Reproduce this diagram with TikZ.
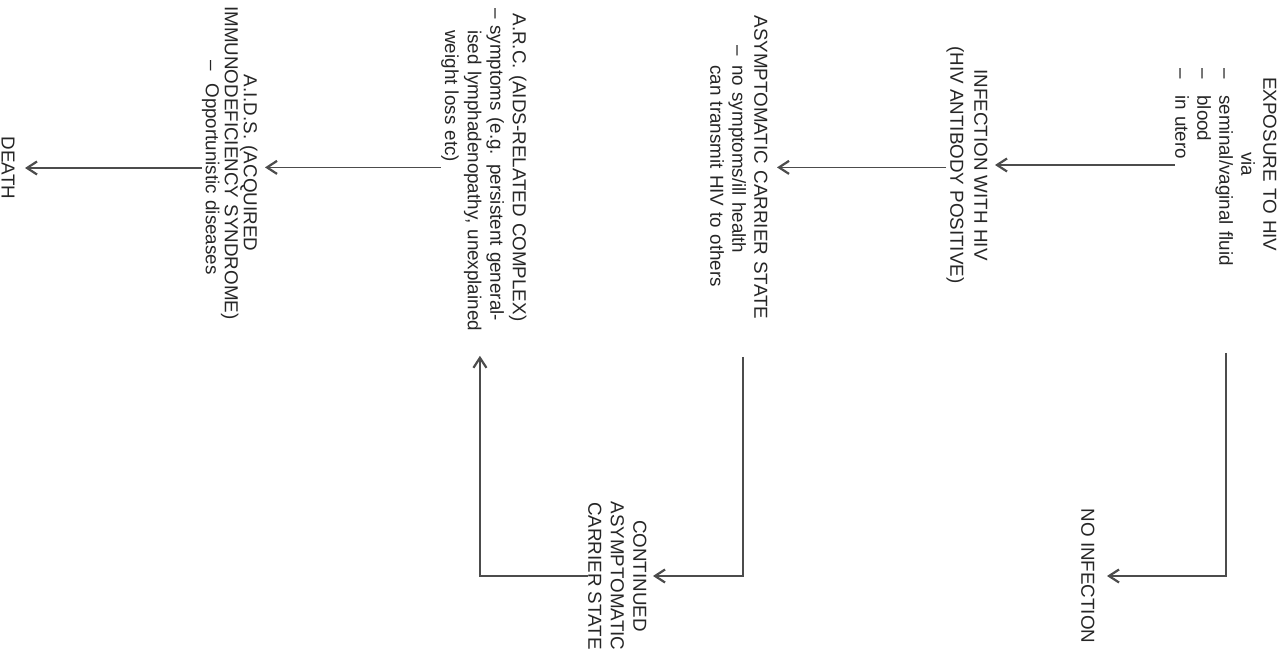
\documentclass[tikz,border=0pt]{standalone}
\usepackage{fontspec}
\setmainfont{Liberation Sans}
\usetikzlibrary{arrows.meta,calc}
\newcommand{\dsh}[1]{\makebox[#1][l]{\textendash}}
\hfuzz=200pt
\begin{document}
\begin{tikzpicture}[x=0.5pt,y=-0.5pt,
  blk/.style={rotate=-90, inner sep=0pt, text=black!85, font=\fontsize{9.4}{11}\selectfont},
  arr/.style={draw=black!70, line width=0.65pt, -{Straight Barb[length=5pt,width=6.5pt,line width=1.1pt]}}]
\fill[white] (0,0) rectangle (1280,651);
\useasboundingbox (0,0) rectangle (1280,651);

\node[blk, anchor=north west, text width=96pt, align=left] (ex) at (1277,68)
 {\makebox[\linewidth][c]{EXPOSURE TO HIV}\\
  \makebox[\linewidth][c]{via}\\
  \mbox{\dsh{13.5pt}seminal/vaginal fluid}\\
  \mbox{\dsh{13.5pt}blood}\\
  \mbox{\dsh{13.5pt}in utero}};

\node[blk, anchor=north, align=center, font=\fontsize{9.4}{12}\selectfont] (inf) at (988,165)
 {INFECTION WITH HIV\\(HIV ANTIBODY POSITIVE)};

\node[blk, anchor=north west, text width=150pt, align=left] (asy) at (768,17)
 {\makebox[\linewidth][c]{ASYMPTOMATIC CARRIER STATE}\\
  \mbox{\hspace*{14pt}\dsh{10pt}no symptoms/ill health}\\
  \mbox{\hspace*{24pt}can transmit HIV to others}};

\node[blk, anchor=north west, text width=159pt, align=left, font=\fontsize{9.4}{11.3}\selectfont] (arc) at (527,8)
 {\makebox[\linewidth][c]{A.R.C. (AIDS-RELATED COMPLEX)}\\
  \mbox{\dsh{8.5pt}symptoms (e.g. persistent general-}\\
  \mbox{\hspace*{11pt}ised lymphadenopathy, unexplained}\\
  \mbox{\hspace*{11pt}weight loss etc)}};

\node[blk, anchor=north west, text width=152.5pt, align=left, font=\fontsize{9.4}{9.5}\selectfont] (aids) at (258,10)
 {\makebox[\linewidth][c]{A.I.D.S. (ACQUIRED}\\
  \makebox[\linewidth][c]{IMMUNODEFICIENCY SYNDROME)}\\
  \mbox{\hspace*{25pt}\dsh{11.5pt}Opportunistic diseases}};

\node[blk, anchor=north] (death) at (15,168) {DEATH};
\node[blk, anchor=north] (noinf) at (1095,576) {NO INFECTION};
\node[blk, anchor=north, align=center, font=\fontsize{9.4}{11.25}\selectfont] (cont) at (647,576)
 {CONTINUED\\ASYMPTOMATIC\\CARRIER STATE};

\coordinate (exdn) at (1226,353);
\coordinate (asydn) at (743,357);

\draw[arr] (ex.south |- inf.north) -- ($(inf.north)+(7,0)$);
\draw[arr] (exdn) |- ($(noinf.north)+(12,0)$);
\draw[arr] (inf.south |- asy.north) -- ($(asy.north)+(9,0)$);
\draw[arr] (asydn) |- ($(cont.north)+(6,0)$);
\draw[arr] (cont.south) -| ($(arc.east)+(-4,29)$);
\draw[arr] (arc.south) -- ($(arc.south -| aids.north)+(7,0)$);
\draw[arr] (aids.south |- death.north) -- ($(death.north)+(10,0)$);
\end{tikzpicture}
\end{document}
